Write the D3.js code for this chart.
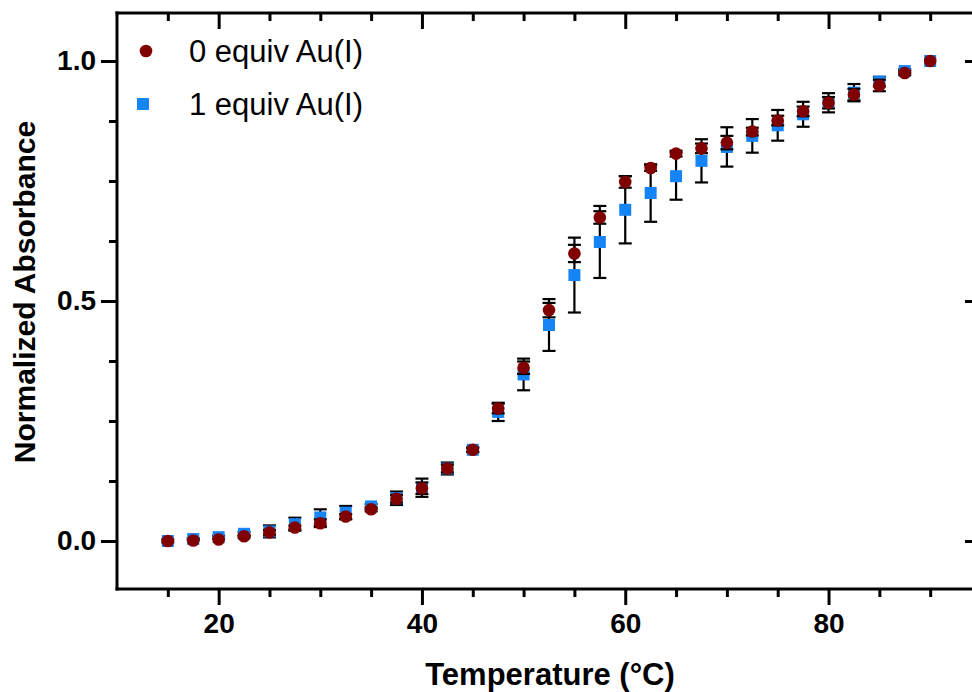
<!DOCTYPE html>
<html lang="en">
<head>
<meta charset="utf-8">
<title>Normalized Absorbance vs Temperature</title>
<script src="https://d3js.org/d3.v7.min.js"></script>
<style>
	body { margin: 0; background: #fff; }
	svg { display: block; font-family: Arial, "Liberation Sans", sans-serif; }
	.axis path, .axis line { stroke: #000; stroke-width: 3; }
	.axis text { font-weight: bold; font-size: 28px; fill: #000; }
</style>
</head>
<body>
<div id="chart"></div>
<script>
	// data
	var temps = [15, 17.5, 20, 22.5, 25, 27.5, 30, 32.5, 35, 37.5, 40, 42.5, 45, 47.5, 50, 52.5,
		55, 57.5, 60, 62.5, 65, 67.5, 70, 72.5, 75, 77.5, 80, 82.5, 85, 87.5, 90];
	var abs0 = [0.0, 0.001, 0.003, 0.010, 0.018, 0.028, 0.037, 0.051, 0.066, 0.088, 0.110, 0.151, 0.190, 0.276, 0.361, 0.481,
		0.599, 0.674, 0.748, 0.777, 0.807, 0.818, 0.830, 0.853, 0.876, 0.895, 0.913, 0.930, 0.949, 0.975, 1.0];
	var err0 = [0, 0, 0, 0.003, 0.005, 0.004, 0.008, 0.005, 0.004, 0.008, 0.012, 0.008, 0.004, 0.010, 0.013, 0.015,
		0.018, 0.013, 0.012, 0.006, 0.006, 0.010, 0.014, 0.008, 0.010, 0.010, 0.012, 0.012, 0.012, 0.004, 0];
	var abs1 = [0.0, 0.004, 0.008, 0.015, 0.020, 0.035, 0.049, 0.059, 0.072, 0.089, 0.111, 0.151, 0.190, 0.269, 0.347, 0.450,
		0.554, 0.623, 0.690, 0.725, 0.760, 0.792, 0.821, 0.844, 0.866, 0.889, 0.913, 0.934, 0.957, 0.979, 1.0];
	var err1 = [0.003, 0.002, 0.003, 0.004, 0.0125, 0.0135, 0.017, 0.014, 0.005, 0.014, 0.019, 0.0125, 0.005, 0.019, 0.033, 0.054,
		0.078, 0.075, 0.070, 0.060, 0.049, 0.045, 0.041, 0.035, 0.032, 0.026, 0.020, 0.018, 0.010, 0.004, 0];
	var seriesNames = ["0 equiv Au(I)", "1 equiv Au(I)"];
	var xMajor = [20, 40, 60, 80];
	var xMinor = [15, 25, 30, 35, 45, 50, 55, 65, 70, 75, 85, 90];
	var yMajor = [0, 0.5, 1.0];
	var yMinor = [0.125, 0.25, 0.375, 0.625, 0.75, 0.875];

	var width = 972, height = 692;
	var red = "#800000", blue = "#1584F6";

	var svg = d3.select("#chart").append("svg")
		.attr("width", width)
		.attr("height", height);

	var x = d3.scaleLinear().domain([10, 95]).range([117, 981]),
		y = d3.scaleLinear().domain([-0.1, 1.1]).range([589, 13]);

	var majorLen = 16, minorLen = 8;

	// bottom axis
	svg.append("g").attr("class", "axis")
		.attr("transform", "translate(0,589)")
		.call(d3.axisBottom(x).tickValues(xMinor).tickSize(minorLen).tickFormat("").tickSizeOuter(0))
		.select(".domain").remove();
	svg.append("g").attr("class", "axis")
		.attr("transform", "translate(0,589)")
		.call(d3.axisBottom(x).tickValues(xMajor).tickSize(majorLen).tickPadding(8).tickFormat(d3.format("d")).tickSizeOuter(0))
		.select(".domain").remove();

	// top axis, ticks pointing inward
	svg.append("g").attr("class", "axis")
		.attr("transform", "translate(0,13)")
		.call(d3.axisBottom(x).tickValues(xMinor).tickSize(minorLen).tickFormat("").tickSizeOuter(0))
		.select(".domain").remove();
	svg.append("g").attr("class", "axis")
		.attr("transform", "translate(0,13)")
		.call(d3.axisBottom(x).tickValues(xMajor).tickSize(majorLen).tickFormat("").tickSizeOuter(0))
		.select(".domain").remove();

	// left axis
	svg.append("g").attr("class", "axis")
		.attr("transform", "translate(117,0)")
		.call(d3.axisLeft(y).tickValues(yMinor).tickSize(minorLen).tickFormat("").tickSizeOuter(0))
		.select(".domain").remove();
	svg.append("g").attr("class", "axis")
		.attr("transform", "translate(117,0)")
		.call(d3.axisLeft(y).tickValues(yMajor).tickSize(majorLen).tickPadding(5).tickFormat(d3.format(".1f")).tickSizeOuter(0))
		.select(".domain").remove();

	// right axis, ticks pointing inward (line sits just off the page)
	svg.append("g").attr("class", "axis")
		.attr("transform", "translate(981,0)")
		.call(d3.axisLeft(y).tickValues(yMinor).tickSize(minorLen).tickFormat("").tickSizeOuter(0))
		.select(".domain").remove();
	svg.append("g").attr("class", "axis")
		.attr("transform", "translate(981,0)")
		.call(d3.axisLeft(y).tickValues(yMajor).tickSize(majorLen).tickFormat("").tickSizeOuter(0))
		.select(".domain").remove();

	// frame lines
	var frame = svg.append("g").attr("stroke", "#000").attr("stroke-width", 3).attr("stroke-linecap", "square");
	frame.append("line").attr("x1", x(10)).attr("x2", x(95)).attr("y1", y(-0.1)).attr("y2", y(-0.1));
	frame.append("line").attr("x1", x(10)).attr("x2", x(95)).attr("y1", y(1.1)).attr("y2", y(1.1));
	frame.append("line").attr("x1", x(10)).attr("x2", x(10)).attr("y1", y(-0.1)).attr("y2", y(1.1));

	var d0 = temps.map(function(t, i) { return {t: t, v: abs0[i], e: err0[i]}; });
	var d1 = temps.map(function(t, i) { return {t: t, v: abs1[i], e: err1[i]}; });

	function errorBars(data) {
		var g = svg.append("g").attr("stroke", "#000").attr("stroke-width", 2.2);
		var bars = g.selectAll("g").data(data.filter(function(d) { return d.e > 0; }))
			.enter().append("g");
		bars.append("line")
			.attr("x1", function(d) { return x(d.t); })
			.attr("x2", function(d) { return x(d.t); })
			.attr("y1", function(d) { return y(d.v - d.e); })
			.attr("y2", function(d) { return y(d.v + d.e); });
		[-1, 1].forEach(function(s) {
			bars.append("line")
				.attr("x1", function(d) { return x(d.t) - 6.5; })
				.attr("x2", function(d) { return x(d.t) + 6.5; })
				.attr("y1", function(d) { return y(d.v + s * d.e); })
				.attr("y2", function(d) { return y(d.v + s * d.e); });
		});
	}

	// blue series first, red on top
	errorBars(d1);
	svg.append("g").selectAll("rect").data(d1).enter().append("rect")
		.attr("x", function(d) { return x(d.t) - 6; })
		.attr("y", function(d) { return y(d.v) - 6; })
		.attr("width", 12).attr("height", 12)
		.attr("fill", blue);

	errorBars(d0);
	svg.append("g").selectAll("circle").data(d0).enter().append("circle")
		.attr("cx", function(d) { return x(d.t); })
		.attr("cy", function(d) { return y(d.v); })
		.attr("r", 6.3)
		.attr("fill", red);

	// legend
	var legend = svg.append("g");
	legend.append("circle").attr("cx", 146).attr("cy", 51).attr("r", 6.3).attr("fill", red);
	legend.append("rect").attr("x", 137).attr("y", 98).attr("width", 12).attr("height", 12).attr("fill", blue);
	legend.selectAll("text").data(seriesNames).enter().append("text")
		.attr("x", 189)
		.attr("y", function(d, i) { return 62 + i * 53; })
		.attr("font-size", 31)
		.attr("fill", "#000")
		.text(function(d) { return d; });

	// axis titles
	svg.append("text")
		.attr("x", 550).attr("y", 685)
		.attr("text-anchor", "middle")
		.attr("font-size", 31).attr("font-weight", "bold")
		.text("Temperature (°C)");
	svg.append("text")
		.attr("transform", "translate(35,292) rotate(-90)")
		.attr("text-anchor", "middle")
		.attr("font-size", 30).attr("font-weight", "bold")
		.text("Normalized Absorbance");
</script>
</body>
</html>
